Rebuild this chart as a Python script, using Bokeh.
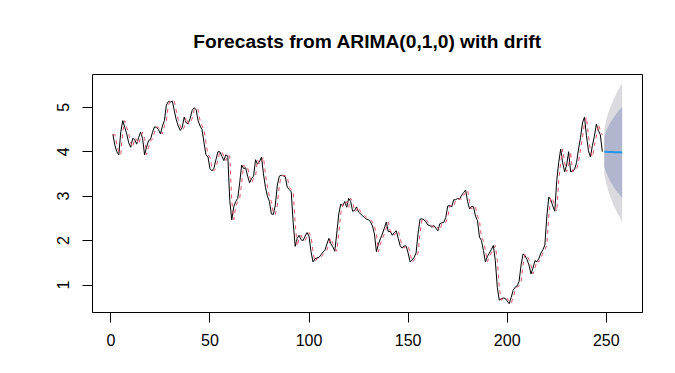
from bokeh.plotting import figure
from bokeh.models import Range1d, FixedTicker
from bokeh.embed import file_html
from bokeh.resources import INLINE

# ---- data ----
series = [
    4.39, 4.15, 4.00, 3.93, 4.45, 4.70, 4.55, 4.40, 4.20, 4.10,
    4.30, 4.28, 4.17, 4.32, 4.44, 4.30, 3.93, 4.10, 4.25, 4.28,
    4.44, 4.56, 4.55, 4.50, 4.40, 4.58, 4.70, 5.05, 5.13, 5.12,
    5.14, 4.92, 4.72, 4.58, 4.48, 4.55, 4.78, 4.65, 4.63, 4.75,
    4.93, 4.99, 4.95, 4.70, 4.58, 4.50, 4.20, 3.93, 3.88, 3.62,
    3.57, 3.63, 3.82, 4.00, 4.00, 3.90, 3.80, 3.93, 3.90, 2.90,
    2.47, 2.76, 2.88, 2.95, 3.30, 3.70, 3.62, 3.64, 3.45, 3.30,
    3.40, 3.45, 3.82, 3.72, 3.78, 3.88, 3.50, 3.20, 3.00, 2.88,
    2.60, 2.59, 2.80, 3.25, 3.45, 3.47, 3.46, 3.44, 3.20, 3.15,
    3.10, 2.40, 1.87, 2.05, 2.12, 2.02, 2.00, 2.10, 2.18, 2.10,
    1.75, 1.52, 1.59, 1.61, 1.62, 1.68, 1.74, 1.78, 1.92, 2.05,
    1.93, 1.86, 1.76, 2.17, 2.60, 2.82, 2.78, 2.88, 2.75, 2.95,
    2.88, 2.66, 2.68, 2.76, 2.64, 2.60, 2.56, 2.52, 2.48, 2.47,
    2.42, 2.33, 2.15, 1.75, 1.92, 2.04, 2.15, 2.28, 2.42, 2.20,
    2.21, 2.12, 2.18, 2.22, 2.05, 1.88, 1.83, 1.88, 1.88, 1.72,
    1.52, 1.56, 1.62, 1.72, 2.15, 2.48, 2.49, 2.47, 2.42, 2.35,
    2.34, 2.30, 2.34, 2.28, 2.22, 2.38, 2.40, 2.41, 2.52, 2.78,
    2.79, 2.76, 2.92, 2.92, 2.95, 2.93, 3.02, 3.08, 3.14, 2.88,
    2.71, 2.77, 2.76, 2.55, 2.45, 2.08, 2.00, 1.78, 1.52, 1.64,
    1.72, 1.80, 1.89, 1.55, 0.95, 0.66, 0.69, 0.71, 0.70, 0.64,
    0.58, 0.72, 0.88, 0.95, 0.98, 1.08, 1.45, 1.70, 1.66, 1.57,
    1.45, 1.25, 1.38, 1.55, 1.52, 1.60, 1.72, 1.79, 1.90, 2.55,
    2.98, 2.92, 2.78, 2.66, 3.35, 3.76, 4.06, 3.75, 3.55, 3.70,
    4.00, 3.55, 3.57, 3.60, 3.76, 4.06, 4.32, 4.65, 4.78, 4.36,
    4.02, 3.88, 4.14, 4.35, 4.62, 4.48, 4.38, 4.00,
]

fitted = [
    4.39, 4.39, 4.15, 4.00, 3.93, 4.45, 4.70, 4.55, 4.40, 4.20,
    4.10, 4.30, 4.28, 4.17, 4.32, 4.44, 4.30, 3.93, 4.10, 4.25,
    4.28, 4.44, 4.56, 4.55, 4.50, 4.40, 4.58, 4.70, 5.05, 5.13,
    5.12, 5.14, 4.92, 4.72, 4.58, 4.48, 4.55, 4.78, 4.65, 4.63,
    4.75, 4.93, 4.99, 4.95, 4.70, 4.58, 4.50, 4.20, 3.93, 3.88,
    3.62, 3.57, 3.63, 3.82, 4.00, 4.00, 3.90, 3.80, 3.93, 3.90,
    2.90, 2.47, 2.76, 2.88, 2.95, 3.30, 3.70, 3.62, 3.64, 3.45,
    3.30, 3.40, 3.45, 3.82, 3.72, 3.78, 3.88, 3.50, 3.20, 3.00,
    2.88, 2.60, 2.59, 2.80, 3.25, 3.45, 3.47, 3.46, 3.44, 3.20,
    3.15, 3.10, 2.40, 1.87, 2.05, 2.12, 2.02, 2.00, 2.10, 2.18,
    2.10, 1.75, 1.52, 1.59, 1.61, 1.62, 1.68, 1.74, 1.78, 1.92,
    2.05, 1.93, 1.86, 1.76, 2.17, 2.60, 2.82, 2.78, 2.88, 2.75,
    2.95, 2.88, 2.66, 2.68, 2.76, 2.64, 2.60, 2.56, 2.52, 2.48,
    2.47, 2.42, 2.33, 2.15, 1.75, 1.92, 2.04, 2.15, 2.28, 2.42,
    2.20, 2.21, 2.12, 2.18, 2.22, 2.05, 1.88, 1.83, 1.88, 1.88,
    1.72, 1.52, 1.56, 1.62, 1.72, 2.15, 2.48, 2.49, 2.47, 2.42,
    2.35, 2.34, 2.30, 2.34, 2.28, 2.22, 2.38, 2.40, 2.41, 2.52,
    2.78, 2.79, 2.76, 2.92, 2.92, 2.95, 2.93, 3.02, 3.08, 3.14,
    2.88, 2.71, 2.77, 2.76, 2.55, 2.45, 2.08, 2.00, 1.78, 1.52,
    1.64, 1.72, 1.80, 1.89, 1.55, 0.95, 0.66, 0.69, 0.71, 0.70,
    0.64, 0.58, 0.72, 0.88, 0.95, 0.98, 1.08, 1.45, 1.70, 1.66,
    1.57, 1.45, 1.25, 1.38, 1.55, 1.52, 1.60, 1.72, 1.79, 1.90,
    2.55, 2.98, 2.92, 2.78, 2.66, 3.35, 3.76, 4.06, 3.75, 3.55,
    3.70, 4.00, 3.55, 3.57, 3.60, 3.76, 4.06, 4.32, 4.65, 4.78,
    4.36, 4.02, 3.88, 4.14, 4.35, 4.62, 4.48, 4.38,
]

fc_mean = [3.998, 3.997, 3.995, 3.994, 3.992, 3.990, 3.989, 3.987, 3.986, 3.984]
lo80 = [3.66, 3.53, 3.43, 3.33, 3.26, 3.19, 3.13, 3.07, 3.02, 2.96]
hi80 = [4.34, 4.47, 4.57, 4.65, 4.72, 4.79, 4.85, 4.91, 4.96, 5.00]
lo95 = [3.48, 3.28, 3.12, 2.99, 2.87, 2.77, 2.68, 2.59, 2.51, 2.42]
hi95 = [4.52, 4.72, 4.88, 4.99, 5.11, 5.21, 5.30, 5.39, 5.47, 5.54]

x_ticks = [0, 50, 100, 150, 200, 250]
y_ticks = [1, 2, 3, 4, 5]
title_text = "Forecasts from ARIMA(0,1,0) with drift"

# ---- positions ----
n = len(series)
t = list(range(1, n + 1))
fc_t = list(range(n + 1, n + 1 + len(fc_mean)))

x_lo, x_hi = t[0], fc_t[-1]
x_pad = 0.04 * (x_hi - x_lo)
y_lo = min(min(series), min(lo95))
y_hi = max(max(series), max(hi95))
y_pad = 0.04 * (y_hi - y_lo)

p = figure(
    width=675, height=373,
    output_backend="svg", toolbar_location=None,
    x_range=Range1d(x_lo - x_pad, x_hi + x_pad),
    y_range=Range1d(y_lo - y_pad, y_hi + y_pad),
    min_border_left=92, min_border_right=33,
    min_border_top=74, min_border_bottom=61,
    title=title_text,
)

p.title.align = "center"
p.title.text_font = "Liberation Sans"
p.title.text_font_size = "19.2px"
p.title.text_font_style = "bold"
p.title.text_color = "black"
p.title.standoff = 45

p.xgrid.visible = False
p.ygrid.visible = False
p.outline_line_color = "black"
p.outline_line_alpha = 1.0
p.outline_line_width = 1
p.background_fill_color = "white"
p.border_fill_color = "white"

p.xaxis.ticker = FixedTicker(ticks=x_ticks)
p.yaxis.ticker = FixedTicker(ticks=y_ticks)
for ax in (p.xaxis[0], p.yaxis[0]):
    ax.axis_line_color = None
    ax.major_tick_in = 0
    ax.major_tick_out = 10
    ax.major_tick_line_color = "black"
    ax.minor_tick_line_color = None
    ax.major_label_text_font = "Liberation Sans"
    ax.major_label_text_font_size = "16px"
    ax.major_label_text_color = "black"
p.xaxis.major_label_standoff = 11
p.yaxis.major_label_standoff = 13
p.yaxis.major_label_orientation = "vertical"

# series and fitted values
p.line(t, series, line_color="black", line_width=1)
p.line(t, fitted, line_color="#DF536B", line_width=1, line_dash="4 4")

# prediction intervals
p.patch(fc_t + fc_t[::-1], lo95 + hi95[::-1], fill_color="#DBDBDF", line_color=None)
p.patch(fc_t + fc_t[::-1], lo80 + hi80[::-1], fill_color="#B1B5CE", line_color=None)
p.line(fc_t, fc_mean, line_color="#2297E6", line_width=2)

open("out.html", "w").write(file_html(p, INLINE))
